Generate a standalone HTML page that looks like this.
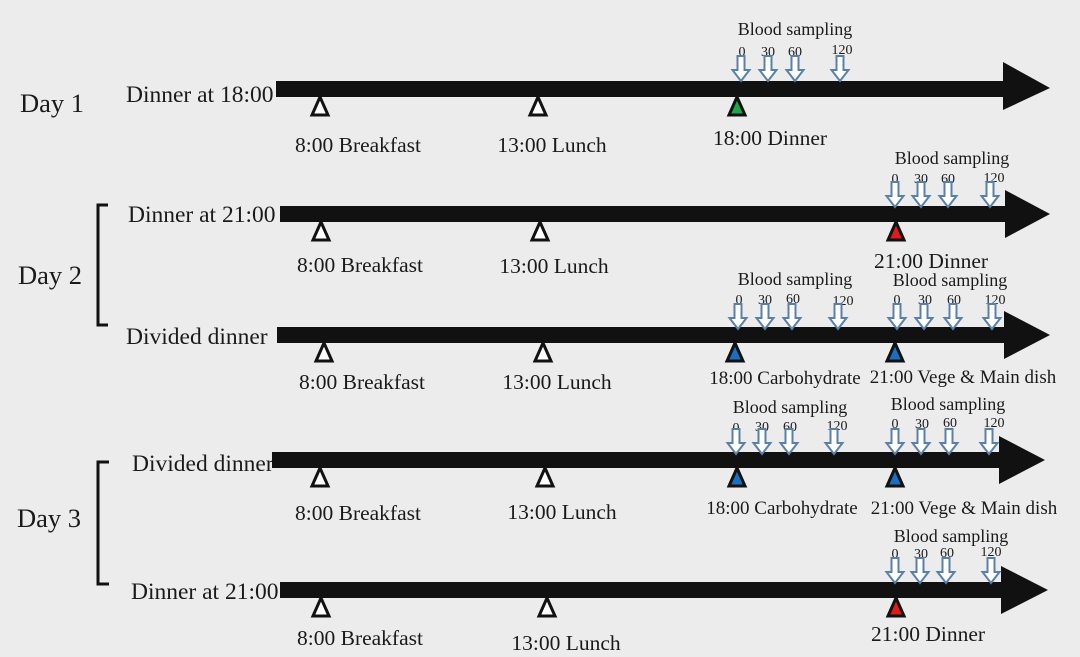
<!DOCTYPE html>
<html><head><meta charset="utf-8"><style>
html,body{margin:0;padding:0;background:#ececec;}
svg{display:block;}
text{font-family:"Liberation Serif",serif;fill:#1a1a1a;}
.l{font-size:21.5px;}
.s{font-size:19px;}
.b{font-size:18px;}
.n{font-size:14px;}
.d{font-size:26.5px;}
.m{font-size:23.5px;}
</style></head><body>
<svg width="1080" height="657" viewBox="0 0 1080 657" xmlns="http://www.w3.org/2000/svg">
<defs>
<path id="ar" d="M-3.5,0 h7 v14 h5 l-8.5,11 l-8.5,-11 h5 z" fill="#fff" stroke="#5a80a8" stroke-width="2"/>
<path id="tw" d="M0,0 l8,18 h-16 z" fill="#fff" stroke="#111" stroke-width="3"/>
<path id="tg" d="M0,0 l8,18 h-16 z" fill="#1fa64a" stroke="#111" stroke-width="3"/>
<path id="tr" d="M0,0 l8,18 h-16 z" fill="#e01b1b" stroke="#111" stroke-width="3"/>
<path id="tb" d="M0,0 l8,18 h-16 z" fill="#1a6fc0" stroke="#111" stroke-width="3"/>
</defs>

<path d="M108,205 h-10 v120 h10" fill="none" stroke="#111" stroke-width="3"/>
<path d="M109,462 h-11 v122 h11" fill="none" stroke="#111" stroke-width="3"/>

<text class="d" x="20" y="112">Day 1</text>
<text class="d" x="18" y="284">Day 2</text>
<text class="d" x="17" y="527">Day 3</text>

<text class="m" x="126" y="102">Dinner at 18:00</text>
<text class="m" x="128" y="222">Dinner at 21:00</text>
<text class="m" x="126" y="344">Divided dinner</text>
<text class="m" x="132" y="471">Divided dinner</text>
<text class="m" x="131" y="599">Dinner at 21:00</text>

<!-- Row 1 -->
<rect x="276" y="81" width="730" height="16" fill="#111"/>
<polygon points="1003,62 1050,88 1003,110" fill="#111"/>
<use href="#tw" x="320" y="97"/><use href="#tw" x="538" y="97"/><use href="#tg" x="737" y="97"/>
<text class="l" x="358" y="152" text-anchor="middle">8:00 Breakfast</text>
<text class="l" x="552" y="152" text-anchor="middle">13:00 Lunch</text>
<text class="l" x="770" y="145" text-anchor="middle">18:00 Dinner</text>
<text class="b" x="795" y="35" text-anchor="middle">Blood sampling</text>
<text class="n" x="742" y="56" text-anchor="middle">0</text><text class="n" x="768" y="56" text-anchor="middle">30</text><text class="n" x="795" y="56" text-anchor="middle">60</text><text class="n" x="842" y="54" text-anchor="middle">120</text>
<use href="#ar" x="741" y="56"/><use href="#ar" x="768" y="56"/><use href="#ar" x="795" y="56"/><use href="#ar" x="840" y="56"/>

<!-- Row 2 -->
<rect x="280" y="206" width="728" height="16" fill="#111"/>
<polygon points="1005,190 1050,214 1005,238" fill="#111"/>
<use href="#tw" x="321" y="222"/><use href="#tw" x="540" y="222"/><use href="#tr" x="896" y="222"/>
<text class="l" x="360" y="272" text-anchor="middle">8:00 Breakfast</text>
<text class="l" x="554" y="273" text-anchor="middle">13:00 Lunch</text>
<text class="l" x="931" y="268" text-anchor="middle">21:00 Dinner</text>
<text class="b" x="952" y="164" text-anchor="middle">Blood sampling</text>
<text class="n" x="895" y="183" text-anchor="middle">0</text><text class="n" x="921" y="183" text-anchor="middle">30</text><text class="n" x="948" y="183" text-anchor="middle">60</text><text class="n" x="994" y="182" text-anchor="middle">120</text>
<use href="#ar" x="895" y="182"/><use href="#ar" x="921" y="182"/><use href="#ar" x="948" y="182"/><use href="#ar" x="990" y="182"/>

<!-- Row 3 -->
<rect x="277" y="327" width="730" height="16" fill="#111"/>
<polygon points="1004,311 1050,335 1004,359" fill="#111"/>
<use href="#tw" x="324" y="343"/><use href="#tw" x="543" y="343"/><use href="#tb" x="735" y="343"/><use href="#tb" x="895" y="343"/>
<text class="l" x="362" y="389" text-anchor="middle">8:00 Breakfast</text>
<text class="l" x="557" y="389" text-anchor="middle">13:00 Lunch</text>
<text class="s" x="785" y="384" text-anchor="middle">18:00 Carbohydrate</text>
<text class="s" x="963" y="383" text-anchor="middle">21:00 Vege &amp; Main dish</text>
<text class="b" x="795" y="285" text-anchor="middle">Blood sampling</text>
<text class="b" x="950" y="286" text-anchor="middle">Blood sampling</text>
<text class="n" x="739" y="304" text-anchor="middle">0</text><text class="n" x="765" y="304" text-anchor="middle">30</text><text class="n" x="793" y="303" text-anchor="middle">60</text><text class="n" x="843" y="305" text-anchor="middle">120</text>
<text class="n" x="897" y="304" text-anchor="middle">0</text><text class="n" x="925" y="304" text-anchor="middle">30</text><text class="n" x="954" y="304" text-anchor="middle">60</text><text class="n" x="995" y="304" text-anchor="middle">120</text>
<use href="#ar" x="738" y="304"/><use href="#ar" x="765" y="304"/><use href="#ar" x="792" y="304"/><use href="#ar" x="838" y="304"/>
<use href="#ar" x="897" y="304"/><use href="#ar" x="924" y="304"/><use href="#ar" x="953" y="304"/><use href="#ar" x="992" y="304"/>

<!-- Row 4 -->
<rect x="272" y="452" width="730" height="16" fill="#111"/>
<polygon points="999,436 1045,460 999,484" fill="#111"/>
<use href="#tw" x="320" y="468"/><use href="#tw" x="545" y="468"/><use href="#tb" x="737" y="468"/><use href="#tb" x="895" y="468"/>
<text class="l" x="358" y="520" text-anchor="middle">8:00 Breakfast</text>
<text class="l" x="562" y="519" text-anchor="middle">13:00 Lunch</text>
<text class="s" x="782" y="514" text-anchor="middle">18:00 Carbohydrate</text>
<text class="s" x="964" y="514" text-anchor="middle">21:00 Vege &amp; Main dish</text>
<text class="b" x="790" y="413" text-anchor="middle">Blood sampling</text>
<text class="b" x="948" y="410" text-anchor="middle">Blood sampling</text>
<text class="n" x="736" y="432" text-anchor="middle">0</text><text class="n" x="762" y="431" text-anchor="middle">30</text><text class="n" x="790" y="431" text-anchor="middle">60</text><text class="n" x="837" y="430" text-anchor="middle">120</text>
<text class="n" x="895" y="428" text-anchor="middle">0</text><text class="n" x="922" y="428" text-anchor="middle">30</text><text class="n" x="950" y="427" text-anchor="middle">60</text><text class="n" x="994" y="427" text-anchor="middle">120</text>
<use href="#ar" x="736" y="429"/><use href="#ar" x="762" y="429"/><use href="#ar" x="789" y="429"/><use href="#ar" x="834" y="429"/>
<use href="#ar" x="895" y="429"/><use href="#ar" x="921" y="429"/><use href="#ar" x="949" y="429"/><use href="#ar" x="989" y="429"/>

<!-- Row 5 -->
<rect x="280" y="582" width="724" height="16" fill="#111"/>
<polygon points="1001,566 1048,590 1001,614" fill="#111"/>
<use href="#tw" x="321" y="598"/><use href="#tw" x="547" y="598"/><use href="#tr" x="896" y="598"/>
<text class="l" x="360" y="645" text-anchor="middle">8:00 Breakfast</text>
<text class="l" x="566" y="650" text-anchor="middle">13:00 Lunch</text>
<text class="l" x="928" y="641" text-anchor="middle">21:00 Dinner</text>
<text class="b" x="951" y="542" text-anchor="middle">Blood sampling</text>
<text class="n" x="895" y="558" text-anchor="middle">0</text><text class="n" x="921" y="558" text-anchor="middle">30</text><text class="n" x="947" y="557" text-anchor="middle">60</text><text class="n" x="991" y="556" text-anchor="middle">120</text>
<use href="#ar" x="895" y="558"/><use href="#ar" x="920" y="558"/><use href="#ar" x="946" y="558"/><use href="#ar" x="991" y="558"/>
</svg>
</body></html>
